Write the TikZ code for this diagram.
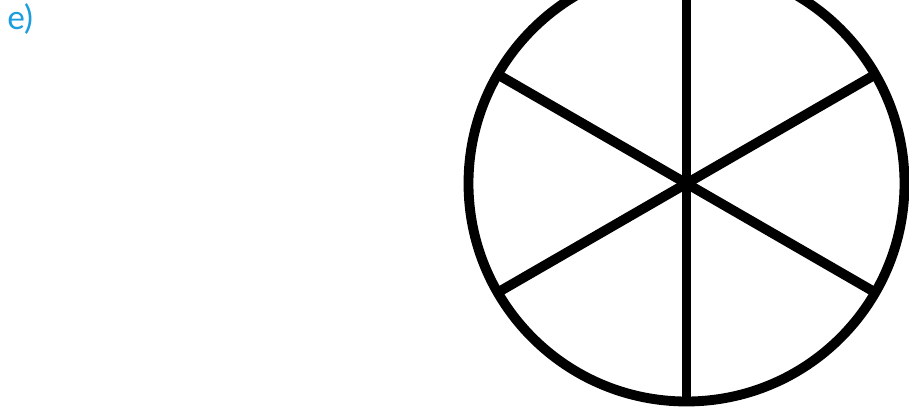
\documentclass[tikz,border=0pt]{standalone}
\usepackage{fontspec}
\setsansfont{Lato}
\usepackage{xcolor}
\usepackage{tikz}
\usetikzlibrary{positioning}

\definecolor{labelblue}{RGB}{27,157,222}

\begin{document}
\begin{tikzpicture}[
    wheelline/.style={line width=5.6pt, black},
    partlabel/.style={font=\sffamily\fontsize{19}{22}\selectfont, text=labelblue, inner sep=0pt}
  ]
  \useasboundingbox (0,0) rectangle (18.18,8.18);
  % label of the part
  \node[partlabel, anchor=base west] (lbl) at (0.14,7.58) {e)};
  % wheel with six spokes
  \node[wheelline, draw, circle, minimum size=8.72cm, inner sep=0pt, outer sep=0pt] (wheel) at (13.73,4.51) {};
  \foreach \ang in {30,90,...,330}
    \draw[wheelline] (wheel.center) -- (wheel.\ang);
\end{tikzpicture}
\end{document}
